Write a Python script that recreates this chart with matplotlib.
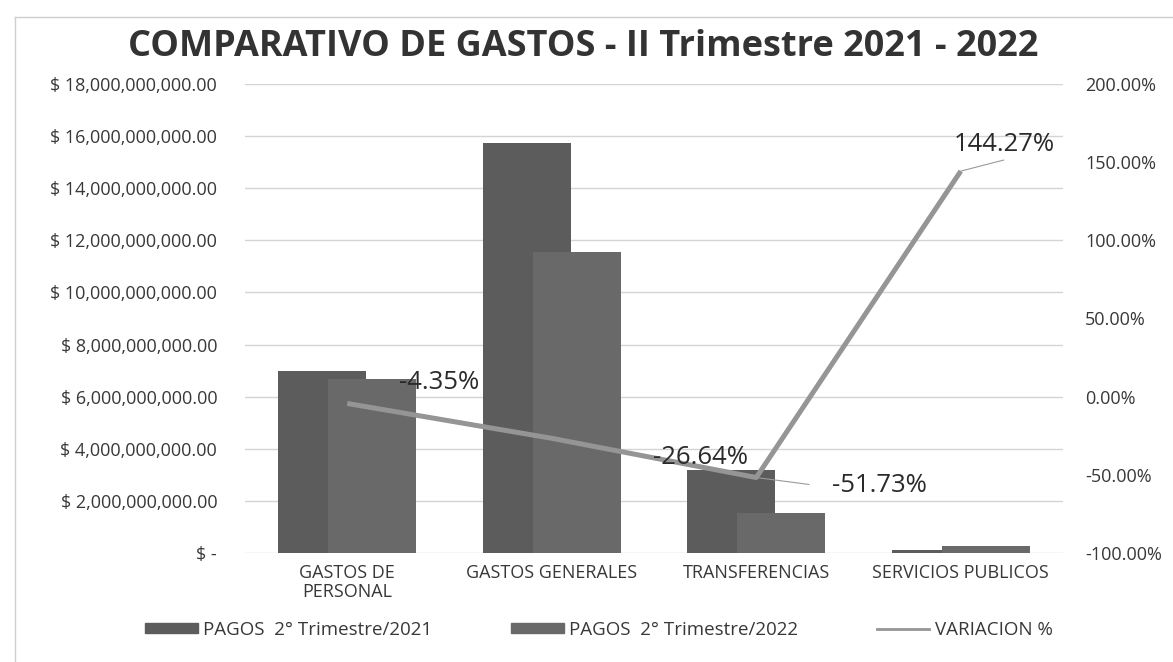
import matplotlib
matplotlib.use("Agg")
import matplotlib.pyplot as plt
from matplotlib.patches import Patch
from matplotlib.lines import Line2D
from matplotlib.ticker import FuncFormatter
import numpy as np

categories = ["GASTOS DE\nPERSONAL", "GASTOS GENERALES", "TRANSFERENCIAS", "SERVICIOS PUBLICOS"]
pagos_2021 = [7.00e9, 15.75e9, 3.17e9, 0.11e9]
pagos_2022 = [6.695e9, 11.55e9, 1.53e9, 0.27e9]
variacion = [-4.35, -26.64, -51.73, 144.27]
series_names = ["PAGOS  2° Trimestre/2021", "PAGOS  2° Trimestre/2022", "VARIACION %"]
title = "COMPARATIVO DE GASTOS - II Trimestre 2021 - 2022"

plt.rcParams['font.family'] = ['Open Sans', 'DejaVu Sans']
W, H = 1173, 662
fig = plt.figure(figsize=(W/100, H/100), dpi=100)
fig.patch.set_facecolor('white')

def px(x0, y0, x1, y1):
    return [x0/W, 1-y1/H, (x1-x0)/W, (y1-y0)/H]

ax = fig.add_axes(px(245, 84, 1063, 553))
ax2 = ax.twinx()

c21 = '#5c5c5c'
c22 = '#696969'
cline = '#959595'
tc = '#383838'

x = np.arange(len(categories))
bw = 0.43
off = 0.123
ax.bar(x - off, pagos_2021, bw, color=c21, zorder=2)
ax.bar(x + off, pagos_2022, bw, color=c22, zorder=3)
ax.set_xlim(-0.5, 3.5)
ax.set_ylim(0, 18e9)
ax.set_yticks(np.arange(0, 18.01e9, 2e9))
ax.yaxis.set_major_formatter(FuncFormatter(lambda v, p: "$ -" if v == 0 else "$ {:,.2f}".format(v)))
ax.grid(axis='y', color='#d4d4d4', lw=1, zorder=0)
ax.set_axisbelow(True)
ax.set_xticks(x)
ax.set_xticklabels(categories, fontsize=13, color=tc, linespacing=1.05)
ax.tick_params(axis='both', length=0)
ax.tick_params(axis='y', labelsize=13, labelcolor=tc, pad=20)
ax.tick_params(axis='x', pad=8)
for s in ax.spines.values():
    s.set_visible(False)

ax2.plot(x, variacion, color=cline, lw=3.6, solid_capstyle='butt', zorder=5)
ax2.set_ylim(-100, 200)
ax2.set_yticks(np.arange(-100, 201, 50))
ax2.yaxis.set_major_formatter(FuncFormatter(lambda v, p: "{:.2f}%".format(v)))
ax2.tick_params(axis='y', length=0, labelsize=13, labelcolor=tc, pad=16)
for s in ax2.spines.values():
    s.set_visible(False)

# data labels (offsets in points)
label_offsets = [(66, 15), (107, -14), (89, -6), (31, 19)]
leaders = [None, None, (38, -5), (31, 8)]
for xi, v, o, ld in zip(x, variacion, label_offsets, leaders):
    if ld is not None:
        ax2.annotate("", xy=(xi, v), xytext=ld, textcoords='offset points',
                     arrowprops=dict(arrowstyle='-', color='#9a9a9a', lw=0.8, shrinkA=0, shrinkB=0))
    ax2.annotate("{:.2f}%".format(v), xy=(xi, v), xytext=o, textcoords='offset points',
                 ha='center', va='center', fontsize=18.5, color='#2a2a2a', zorder=6)

fig.text(583/W, 1-47/H, title, ha='center', va='center', fontsize=26, fontweight='bold', color='#333333')

handles = [Patch(color=c21), Patch(color=c22), Line2D([0], [0], color=cline, lw=2)]
leg = fig.legend(handles, series_names, loc='center', bbox_to_anchor=(599/W, 1-630/H), ncol=3,
                 frameon=False, fontsize=13.5, handlelength=2.8, handleheight=0.42,
                 handletextpad=0.3, columnspacing=4.2, labelcolor=tc)

# chart frame
fig.add_artist(Line2D([15/W, 15/W], [0, 1-17/H], color='#cfcfcf', lw=1))
fig.add_artist(Line2D([15/W, 1], [1-17/H, 1-17/H], color='#cfcfcf', lw=1))

fig.savefig("out.png", dpi=100)
